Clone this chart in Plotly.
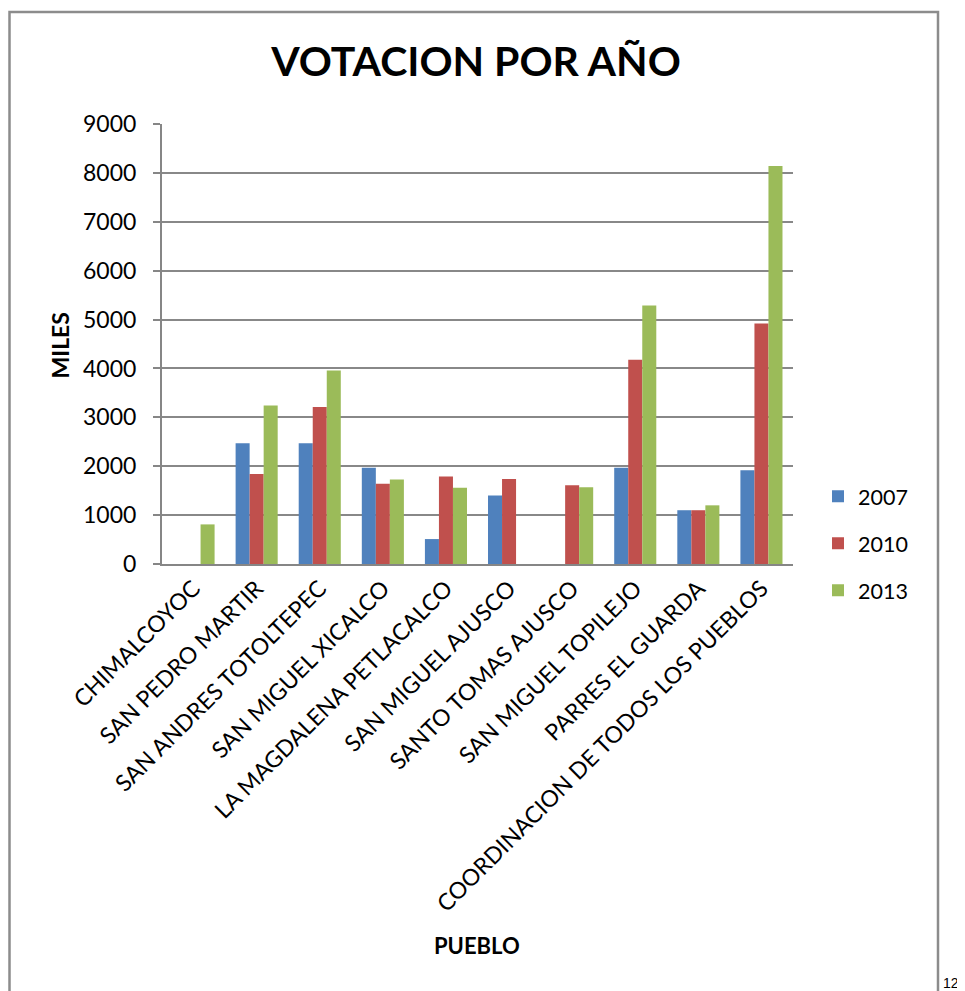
import plotly.graph_objects as go

pueblos = ["CHIMALCOYOC", "SAN PEDRO MARTIR", "SAN ANDRES TOTOLTEPEC", "SAN MIGUEL XICALCO",
           "LA MAGDALENA PETLACALCO", "SAN MIGUEL AJUSCO", "SANTO TOMAS AJUSCO",
           "SAN MIGUEL TOPILEJO", "PARRES EL GUARDA", "COORDINACION DE TODOS LOS PUEBLOS"]
v2007 = [None, 2470, 2470, 1970, 510, 1400, None, 1970, 1100, 1920]
v2010 = [None, 1840, 3210, 1640, 1790, 1740, 1610, 4180, 1100, 4920]
v2013 = [810, 3240, 3960, 1730, 1560, None, 1570, 5290, 1200, 8140]
years = ["2007", "2010", "2013"]
colors = ["#4F81BD", "#C0504D", "#9BBB59"]
yticks = [0, 1000, 2000, 3000, 4000, 5000, 6000, 7000, 8000, 9000]

FONT = "Lato, Open Sans, sans-serif"
OFF = 8  # browser body margin
fig = go.Figure()
for i, (name, vals) in enumerate(zip(years, [v2007, v2010, v2013])):
    fig.add_trace(go.Bar(x=pueblos, y=vals, name=name, marker_color=colors[i],
                         marker_line_width=0, legendgroup=name))

L, R, T, B = 162 - OFF, 793 - OFF, 123.5 - OFF, 563.7 - OFF
W, H = 965 - OFF, 991 - OFF
pw, ph = R - L, B - T
def px(x): return (x - OFF - L) / pw
def py(y): return (B - (y - OFF)) / ph

fig.update_layout(
    width=W, height=H,
    margin=dict(l=L, r=W - R, t=T, b=H - B),
    paper_bgcolor="white", plot_bgcolor="white",
    font=dict(family=FONT, color="black"),
    barmode="group", bargap=0.333, bargroupgap=0,
    showlegend=True,
    legend=dict(x=px(818), y=py(543), xanchor="left", yanchor="middle",
                font=dict(size=21.5, family=FONT), tracegroupgap=16,
                itemwidth=30, bgcolor="rgba(0,0,0,0)"),
    title=dict(text="<b>VOTACION POR AÑO</b>", x=px(476), xref="paper", xanchor="center",
               y=1 - (62 - OFF) / H, yanchor="middle", font=dict(size=41, family=FONT)),
    xaxis=dict(tickangle=-45, tickfont=dict(size=23, family=FONT), showline=True,
               linecolor="#868686", linewidth=2, ticks="", showgrid=False),
    yaxis=dict(range=[0, 9000], tickvals=yticks, tickfont=dict(size=23, family=FONT),
               showgrid=True, gridcolor="#888888", gridwidth=2, showline=True,
               linecolor="#868686", linewidth=2, ticks="outside", ticklen=7,
               tickcolor="#868686", tickwidth=2, zeroline=False, ticklabelstandoff=12),
    shapes=[dict(type="rect", xref="paper", yref="paper", x0=px(9.5), x1=px(938),
                 y0=py(1010), y1=py(11.5), line=dict(color="#8c8c8c", width=2.5),
                 fillcolor="rgba(0,0,0,0)", layer="below")],
    annotations=[
        dict(text="<b>MILES</b>", xref="paper", yref="paper", x=px(60), y=py(345),
             textangle=-90, showarrow=False, font=dict(size=23, family=FONT),
             xanchor="center", yanchor="middle"),
        dict(text="<b>PUEBLO</b>", xref="paper", yref="paper", x=px(477), y=py(945),
             showarrow=False, font=dict(size=22, family=FONT),
             xanchor="center", yanchor="middle"),
        dict(text="12", xref="paper", yref="paper", x=px(941), y=py(983),
             showarrow=False, font=dict(size=14, family="Liberation Sans, Arial"),
             xanchor="left", yanchor="middle"),
    ],
)
fig.write_html("out.html")
